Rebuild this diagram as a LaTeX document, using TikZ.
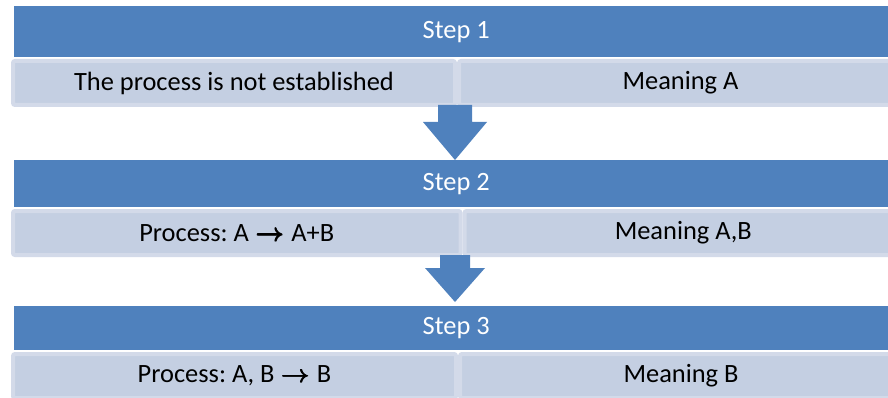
\documentclass[tikz,border=0pt]{standalone}
\usepackage{fontspec}
\setmainfont{Carlito}
\usepackage{amsmath}
\usepackage{tikz}
\usetikzlibrary{positioning}
\definecolor{stepblue}{HTML}{4F81BD}
\definecolor{celllight}{HTML}{C4CFE2}
\definecolor{celledge}{HTML}{D3DAE9}
\newcommand{\goesto}{\kern1pt\pmb{$\boldsymbol{\rightarrow}$}\kern1pt}
\frenchspacing

\begin{document}
\begin{tikzpicture}[x=1pt,y=-1pt,
		font=\fontsize{26.4}{30}\selectfont,
		stepbar/.style={fill=stepblue,text=white,inner sep=0pt,anchor=north west,minimum width=884pt},
		cell/.style={fill=celllight,draw=celledge,line width=4pt,rounded corners=2pt,inner sep=0pt,anchor=north west,minimum height=44pt}
		]
			\clip (0,0) rectangle (888,398);
			% row 1
			\node[stepbar,minimum height=51pt] (step1) at (14,6) {Step 1};
			\node[cell,minimum width=442pt] (proc1) at (11,59) {The process is not established};
			\node[cell,minimum width=443pt] (mean1) at (457,59) {Meaning A};
			% row 2
			\node[stepbar,minimum height=47pt] (step2) at (14,160) {Step 2};
			\node[cell,minimum width=447.5pt] (proc2) at (11,209) {Process: A \goesto{} A+B};
			\node[cell,minimum width=437.5pt] (mean2) at (462.5,209) {Meaning A,B};
			% row 3
			\node[stepbar,minimum height=44pt] (step3) at (14,306) {Step 3};
			\node[cell,minimum width=443pt] (proc3) at (11,352) {Process: A, B \goesto{} B};
			\node[cell,minimum width=442pt] (mean3) at (458,352) {Meaning B};
			% block arrows between the steps
			\coordinate (a1top) at (455,105);
			\coordinate (a1tip) at (455,160);
			\fill[stepblue] (a1top) ++(-17,0) -- ++(34,0) -- ++(0,17) -- ++(15,0) -- (a1tip) -- ++(-32,-38) -- ++(15,0) -- cycle;
			\coordinate (a2top) at (455,255);
			\coordinate (a2tip) at (455,302);
			\fill[stepblue] (a2top) ++(-15,0) -- ++(30,0) -- ++(0,13) -- ++(15,0) -- (a2tip) -- ++(-30,-34) -- ++(15,0) -- cycle;
		\end{tikzpicture}
\end{document}
